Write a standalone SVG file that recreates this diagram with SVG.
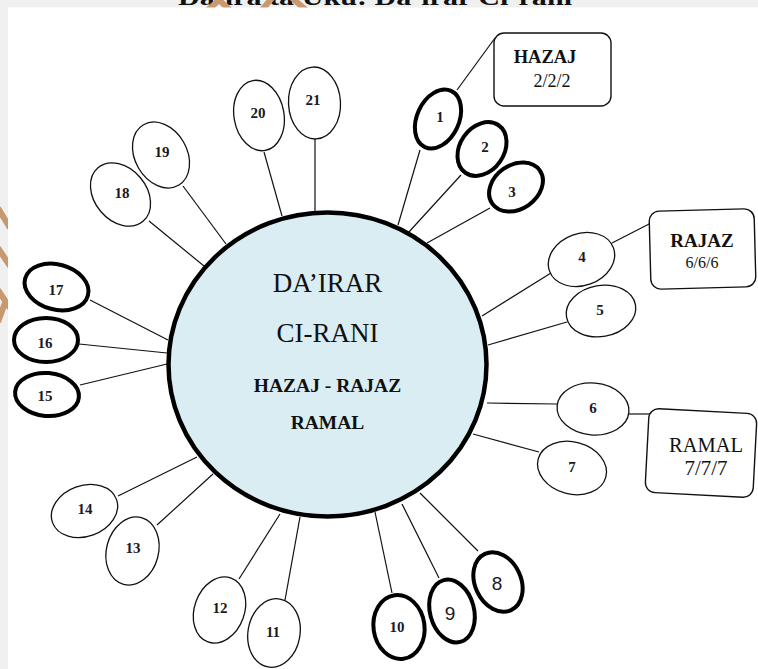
<svg xmlns="http://www.w3.org/2000/svg" width="758" height="669" viewBox="0 0 758 669">
  <style>
    .thin { fill: #ffffff; stroke: #111; stroke-width: 1.3; }
    .bold { fill: #ffffff; stroke: #000; stroke-width: 4; }
    .box { fill: #ffffff; stroke: #111; stroke-width: 1.4; }
    .num { font-family: "Liberation Serif", "Times New Roman", serif; font-weight: bold; font-size: 15px; fill: #1a1a22; text-anchor: middle; }
    .numsans { font-family: "Liberation Sans", Arial, sans-serif; font-size: 19px; fill: #1a1a22; text-anchor: middle; }
    .lbl { font-family: "Liberation Serif", "Times New Roman", serif; fill: #111; text-anchor: middle; }
    .conn line { stroke: #111; stroke-width: 1.2; }
    .mark { stroke: #c8996e; stroke-width: 6; fill: none; }
  </style>

  <!-- page background and margin -->
  <rect x="0" y="0" width="758" height="669" fill="#f0f0f0"/>
  <text x="375" y="5" class="lbl" font-weight="bold" font-size="24" textLength="394" lengthAdjust="spacingAndGlyphs">Da’ira ta Uku: Da’irar Ci-rani</text>
  <path class="mark" d="M208 10 L219 0 L230 10 M262 10 L272 -2 M292 -2 L306 10"/>
  <path class="mark" d="M-2 208 L10 228 M-2 248 L10 266 M-2 290 L10 308 M-2 322 L6 300"/>
  <rect x="8" y="7.5" width="750" height="662" fill="#ffffff"/>

  <!-- connectors -->
  <g id="connectors" class="conn">
    <line x1="398" y1="225" x2="420" y2="150"/>
    <line x1="457" y1="90" x2="495" y2="38" stroke-width="1.6"/>
    <line x1="408" y1="233" x2="461" y2="175"/>
    <line x1="427" y1="243" x2="490" y2="208"/>
    <line x1="482" y1="316" x2="551" y2="273"/>
    <line x1="612" y1="243" x2="651" y2="223" stroke-width="1.6"/>
    <line x1="488" y1="345" x2="567" y2="322"/>
    <line x1="487" y1="403" x2="557" y2="404"/>
    <line x1="629" y1="414" x2="652" y2="414" stroke-width="1.6"/>
    <line x1="473" y1="434" x2="539" y2="452"/>
    <line x1="420" y1="493" x2="478" y2="551"/>
    <line x1="402" y1="504" x2="439" y2="578"/>
    <line x1="375" y1="512" x2="392" y2="593"/>
    <line x1="300" y1="517" x2="285" y2="600"/>
    <line x1="280" y1="514" x2="239" y2="579"/>
    <line x1="213" y1="474" x2="157" y2="525"/>
    <line x1="197" y1="457" x2="118" y2="496"/>
    <line x1="167" y1="364" x2="80" y2="385"/>
    <line x1="167" y1="353" x2="79" y2="344"/>
    <line x1="168" y1="340" x2="90" y2="300"/>
    <line x1="204" y1="266" x2="149" y2="221"/>
    <line x1="226" y1="244" x2="183" y2="186"/>
    <line x1="282" y1="216" x2="264" y2="152"/>
    <line x1="315" y1="212" x2="315" y2="139"/>
  </g>

  <!-- centre circle -->
  <g id="hub">
    <ellipse cx="327.5" cy="364.5" rx="159" ry="152" fill="#daedf3" stroke="#000" stroke-width="4.5"/>
    <text x="327.5" y="292" class="lbl" font-size="27">DA’IRAR</text>
    <text x="327.5" y="342" class="lbl" font-size="27">CI-RANI</text>
    <text x="327.5" y="392" class="lbl" font-size="19.5" font-weight="bold">HAZAJ - RAJAZ</text>
    <text x="327.5" y="429" class="lbl" font-size="19.5" font-weight="bold">RAMAL</text>
  </g>

  <!-- metre boxes -->
  <g id="box-hazaj">
    <rect class="box" x="494" y="33" width="117" height="73" rx="10"/>
    <text x="545" y="63" class="lbl" font-size="18.5" font-weight="bold">HAZAJ</text>
    <text x="552" y="87" class="lbl" font-size="18">2/2/2</text>
  </g>
  <g id="box-rajaz">
    <rect class="box" x="650" y="210" width="105" height="78" rx="10" transform="rotate(-1.5 702 249)"/>
    <text x="702" y="247" class="lbl" font-size="19" font-weight="bold">RAJAZ</text>
    <text x="702" y="268" class="lbl" font-size="16" font-family="'Liberation Sans', Arial, sans-serif">6/6/6</text>
  </g>
  <g id="box-ramal">
    <rect class="box" x="647" y="411" width="108" height="84" rx="10" transform="rotate(3 701 453)"/>
    <text x="706" y="452" class="lbl" font-size="20.5">RAMAL</text>
    <text x="706" y="475" class="lbl" font-size="21">7/7/7</text>
  </g>

  <!-- numbered feet -->
  <g id="n1"><ellipse class="bold" cx="438" cy="119" rx="21" ry="31" transform="rotate(25 438 119)"/><text class="num" x="440" y="122">1</text></g>
  <g id="n2"><ellipse class="bold" cx="482" cy="149" rx="22" ry="29" transform="rotate(35 482 149)"/><text class="num" x="485" y="152">2</text></g>
  <g id="n3"><ellipse class="bold" cx="516" cy="187" rx="29" ry="22" transform="rotate(-35 516 187)"/><text class="num" x="512" y="197">3</text></g>
  <g id="n4"><ellipse class="thin" cx="581.5" cy="259.5" rx="34" ry="26" transform="rotate(-20 581.5 259.5)"/><text class="num" x="582" y="262">4</text></g>
  <g id="n5"><ellipse class="thin" cx="601" cy="311" rx="35" ry="25.5" transform="rotate(-10 601 311)"/><text class="num" x="600" y="315">5</text></g>
  <g id="n6"><ellipse class="thin" cx="593" cy="409" rx="36" ry="26" transform="rotate(5 593 409)"/><text class="num" x="593" y="413">6</text></g>
  <g id="n7"><ellipse class="thin" cx="572" cy="468" rx="35" ry="26" transform="rotate(15 572 468)"/><text class="num" x="572" y="472">7</text></g>
  <g id="n8"><ellipse class="bold" cx="498" cy="582" rx="23" ry="31" transform="rotate(-25 498 582)"/><text class="numsans" x="497" y="590">8</text></g>
  <g id="n9"><ellipse class="bold" cx="452" cy="611" rx="22" ry="32" transform="rotate(-15 452 611)"/><text class="numsans" x="450" y="620">9</text></g>
  <g id="n10"><ellipse class="bold" cx="399" cy="627" rx="25.5" ry="32" transform="rotate(-8 399 627)"/><text class="num" x="397" y="632">10</text></g>
  <g id="n11"><ellipse class="thin" cx="274" cy="633" rx="26" ry="34.5" transform="rotate(10 274 633)"/><text class="num" x="273" y="637">11</text></g>
  <g id="n12"><ellipse class="thin" cx="219.5" cy="610" rx="25" ry="34" transform="rotate(20 219.5 610)"/><text class="num" x="220" y="613">12</text></g>
  <g id="n13"><ellipse class="thin" cx="132.5" cy="551" rx="26" ry="34.5" transform="rotate(15 132.5 551)"/><text class="num" x="133" y="553">13</text></g>
  <g id="n14"><ellipse class="thin" cx="84.5" cy="511" rx="34" ry="25.5" transform="rotate(-20 84.5 511)"/><text class="num" x="85" y="514">14</text></g>
  <g id="n15"><ellipse class="bold" cx="47" cy="394.5" rx="32" ry="21.5" transform="rotate(5 47 394.5)"/><text class="num" x="45" y="401">15</text></g>
  <g id="n16"><ellipse class="bold" cx="46" cy="340" rx="32" ry="22" /><text class="num" x="45" y="348">16</text></g>
  <g id="n17"><ellipse class="bold" cx="56.5" cy="287" rx="32.5" ry="22.5" transform="rotate(15 56.5 287)"/><text class="num" x="56" y="295">17</text></g>
  <g id="n18"><ellipse class="thin" cx="120.5" cy="194.5" rx="26" ry="35" transform="rotate(-40 120.5 194.5)"/><text class="num" x="122" y="198">18</text></g>
  <g id="n19"><ellipse class="thin" cx="161" cy="155" rx="26" ry="35" transform="rotate(-30 161 155)"/><text class="num" x="162" y="157">19</text></g>
  <g id="n20"><ellipse class="thin" cx="259" cy="115.5" rx="25" ry="35.5" transform="rotate(-10 259 115.5)"/><text class="num" x="258" y="118">20</text></g>
  <g id="n21"><ellipse class="thin" cx="314.5" cy="103" rx="26" ry="36" transform="rotate(-3 314.5 103)"/><text class="num" x="313" y="105">21</text></g>
</svg>
